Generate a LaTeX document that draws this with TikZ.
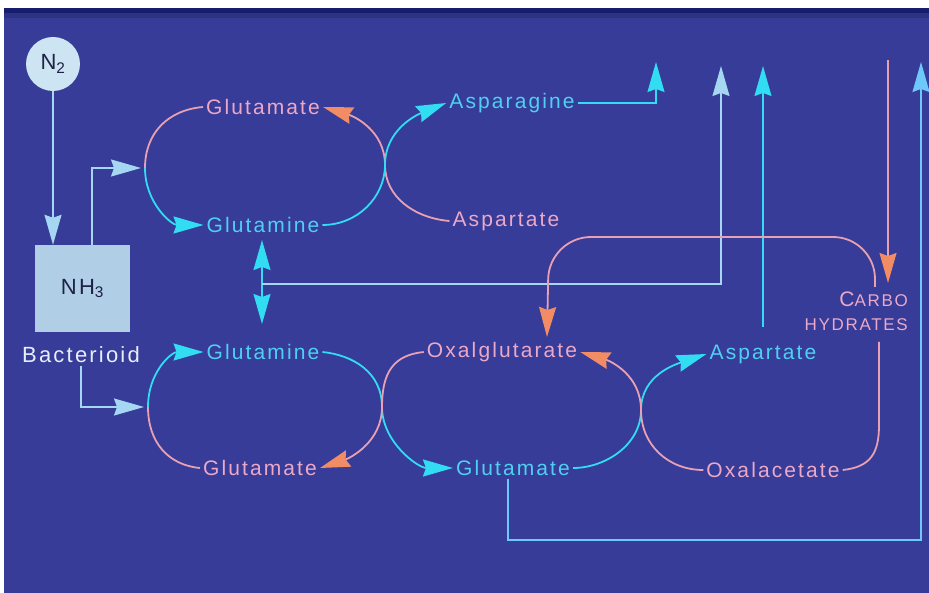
\documentclass[tikz,border=0pt]{standalone}
\usepackage{fontspec}
\setmainfont{Liberation Sans}[LetterSpace=10]
\usetikzlibrary{arrows.meta}
\definecolor{bg}{RGB}{54,60,152}
\definecolor{navyband}{RGB}{22,28,110}
\definecolor{pinktext}{RGB}{236,168,198}
\definecolor{pinkline}{RGB}{232,160,178}
\definecolor{salmonhead}{RGB}{242,140,100}
\definecolor{cyantext}{RGB}{80,208,240}
\definecolor{cyanline}{RGB}{50,220,242}
\definecolor{paleblue}{RGB}{165,215,242}
\definecolor{skyline}{RGB}{110,200,250}
\definecolor{circfill}{RGB}{205,228,242}
\definecolor{boxfill}{RGB}{176,206,230}
\definecolor{darktext}{RGB}{30,34,70}
\tikzset{
  lbl/.style={inner sep=3pt, font=\fontsize{21}{24}\selectfont},
  ptxt/.style={lbl, text=pinktext},
  ctxt/.style={lbl, text=cyantext},
  pline/.style={draw=pinkline, line width=1.8pt},
  cline/.style={draw=cyanline, line width=1.8pt},
  tipc/.style={-{Stealth[length=30pt 0 0,width=17pt 0,inset=3pt 0]}},
  parrow/.style={pline, -{Stealth[length=30pt 0 0,width=17pt 0,inset=3pt 0,color=salmonhead]}},
  carrow/.style={cline, tipc},
  lightarrow/.style={draw=paleblue, line width=1.6pt, tipc},
}
\begin{document}
\begin{tikzpicture}[x=1pt,y=-1pt]
\useasboundingbox (0,0) rectangle (929,593);
\fill[bg] (0,0) rectangle (929,593);
\fill[navyband] (0,8) rectangle (929,13);
\fill[bg!85!black] (0,13) rectangle (929,18);
\fill[white] (0,0) rectangle (929,8);
\fill[white] (0,0) rectangle (4,593);

% nodes
\node[circle, fill=circfill, minimum size=54pt, inner sep=0pt, text=darktext,
      font=\fontsize{22}{24}\selectfont] (n2) at (53,64) {N\textsubscript{2}};
\node[rectangle, fill=boxfill, minimum width=95pt, minimum height=87pt, text=darktext,
      font=\fontsize{22}{24}\selectfont] (nh3) at (82.5,288.5) {NH\textsubscript{3}};
\node[lbl, text={rgb,255:red,232;green,238;blue,248}, font=\fontsize{22}{24}\selectfont] (bact) at (81,355) {Bacterioid};

\node[ptxt] (glu1) at (263,107) {Glutamate};
\node[ctxt] (gln1) at (263,225) {Glutamine};
\node[ctxt] (asn) at (512,103) {Asparagine};
\node[ptxt] (asp1) at (506,221) {Aspartate};
\node[ctxt] (gln2) at (263,352) {Glutamine};
\node[ptxt] (glu2) at (260,468) {Glutamate};
\node[ptxt] (oxg) at (502,352) {Oxalglutarate};
\node[ctxt] (glu3) at (513,468) {Glutamate};
\node[ctxt] (asp2) at (763,354) {Aspartate};
\node[ptxt] (oxa) at (773,470) {Oxalacetate};
\node[text=pinktext, inner sep=0pt, anchor=east] (carbo) at (908,299)
  {{\fontsize{21}{22}\selectfont C}{\fontsize{17}{22}\selectfont ARBO}};
\node[text=pinktext, inner sep=0pt, anchor=east, font=\fontsize{17}{20}\selectfont] (hydr) at (908,325) {HYDRATES};

% coordinates
\coordinate (lt1) at (145,168);
\coordinate (cx1) at (385,165);
\coordinate (lb) at (148,407);
\coordinate (cx2) at (382,407);
\coordinate (cx3) at (641,410);
\coordinate (bx) at (92,245);
\coordinate (upA) at (656,62);
\coordinate (upB) at (721,66);
\coordinate (upC) at (763,66);
\coordinate (upCs) at (763,327);
\coordinate (upD) at (921,62);
\coordinate (downS) at (888,60);
\coordinate (downE) at (888,283);
\coordinate (dA) at (262,240);
\coordinate (dB) at (262,324);
\coordinate (dM) at (262,284);
\coordinate (cbS) at (875,287);
\coordinate (cbC) at (875,237);
\coordinate (cbL) at (549,237);
\coordinate (oxgT) at (547,337);
\coordinate (chS) at (879,342);
\coordinate (chM) at (879,425);
\coordinate (bot) at (921,540);

% N2 and NH3 arrows
\draw[lightarrow] (n2.south) -- (nh3.north -| n2.south);
\draw[lightarrow, shorten >=4pt] (bx) |- (lt1);
\draw[draw=paleblue, line width=1.6pt, tipc, shorten >=4pt] (bact.south) |- (lb);

% top left loop
\draw[pline] (glu1.west) .. controls +(-35,3) and +(0,-35) .. (lt1);
\draw[carrow] (lt1) .. controls +(0,35) and +(-32,0) .. (gln1.west);
% top crossing
\draw[parrow] (asp1.west) .. controls +(-35,-3) and +(0,32) .. (cx1)
   .. controls +(0,-35) and +(30,9) .. (glu1.east);
\draw[carrow] (gln1.east) .. controls +(35,0) and +(0,32) .. (cx1)
   .. controls +(0,-35) and +(-30,12) .. (asn.west);
\draw[draw=cyanline, line width=1.6pt, tipc] (asn.east) -| (upA);

% double arrow and pale line
\draw[draw=cyanline, line width=1.6pt, {Stealth[length=30pt 0 0,width=17pt 0,inset=3pt 0]}-{Stealth[length=30pt 0 0,width=17pt 0,inset=3pt 0]}] (dA) -- (dB);
\draw[lightarrow] (dM) -| (upB);
\draw[draw=cyanline, line width=1.6pt, tipc] (upCs) -- (upC);

% carbohydrates
\draw[parrow] (downS) -- (downE);
\draw[parrow, rounded corners=42pt] (cbS) -- (cbC) -- (cbL) -- (oxgT);
\draw[pline] (chS) -- (chM) .. controls +(0,28) and +(28,-3) .. (oxa.east);

% bottom left loop
\draw[pline] (glu2.west) .. controls +(-32,-3) and +(0,35) .. (lb);
\draw[carrow] (lb) .. controls +(0,-35) and +(-32,0) .. (gln2.west);
% crossing 2
\draw[carrow] (gln2.east) .. controls +(30,3) and +(0,-35) .. (cx2)
   .. controls +(0,35) and +(-35,0) .. (glu3.west);
\draw[parrow] (oxg.west) .. controls +(-30,3) and +(0,-35) .. (cx2)
   .. controls +(0,35) and +(30,-10) .. (glu2.east);
% crossing 3
\draw[carrow] (glu3.east) .. controls +(32,0) and +(0,35) .. (cx3)
   .. controls +(0,-35) and +(-30,10) .. (asp2.west);
\draw[parrow] (oxa.west) .. controls +(-35,0) and +(0,35) .. (cx3)
   .. controls +(0,-35) and +(30,9) .. (oxg.east);

% bottom return line
\draw[draw=skyline, line width=1.6pt, tipc] (glu3.south -| 508,0) |- (bot) -- (upD);
\end{tikzpicture}
\end{document}
